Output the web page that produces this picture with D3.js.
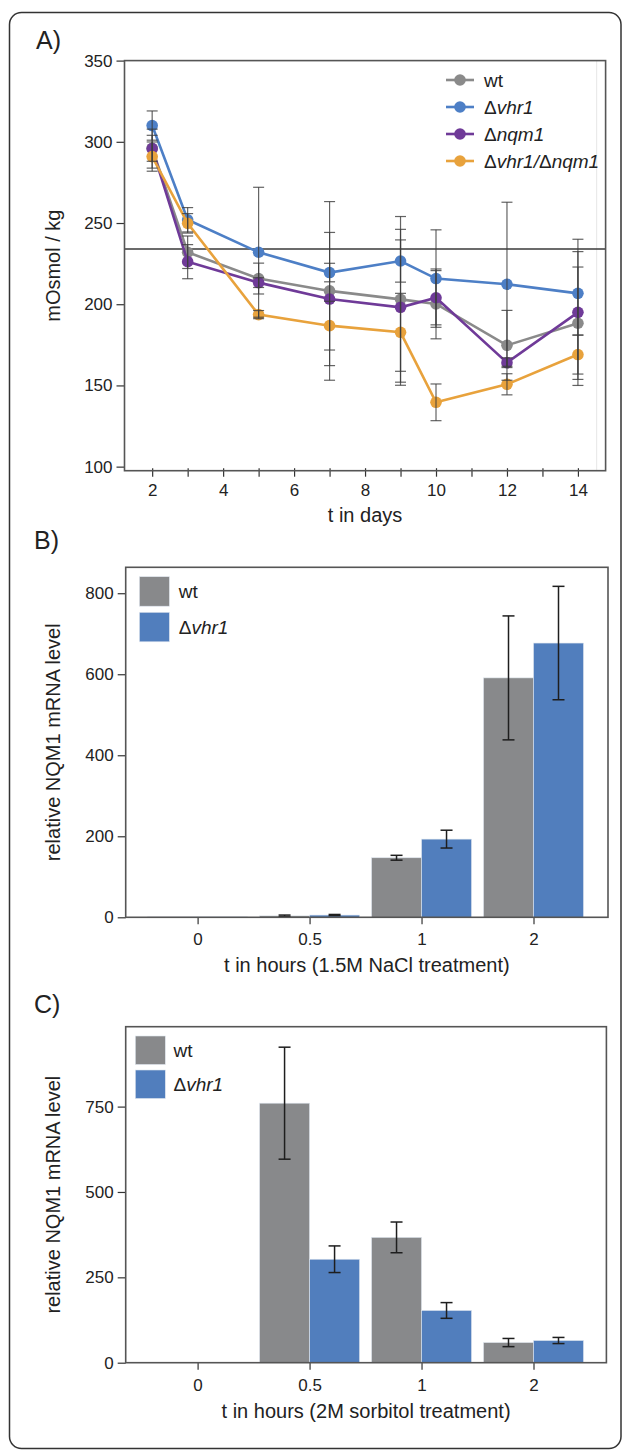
<!DOCTYPE html>
<html>
<head>
<meta charset="utf-8">
<script src="https://cdn.jsdelivr.net/npm/d3@7/dist/d3.min.js"></script>
<style>
    body { margin: 0; background: #fff; }
    svg text { font-family: "Liberation Sans", Arial, sans-serif; fill: #222; }
</style>
</head>
<body>
<div id="fig"></div>
<script>
// ---- panel A: osmolality over days ----
const days = [2, 3, 5, 7, 9, 10, 12, 14];
const wt_osm = [296, 232, 215.8, 208.2, 203, 200.2, 174.7, 188.3];
const wt_osm_err = [8, 10, 9.5, 55, 51, 21.5, 21.5, 34.6];
const vhr1_osm = [310, 252, 232, 219.5, 226.6, 215.8, 212.3, 206.7];
const vhr1_osm_err = [9, 7.5, 40, 5.7, 13, 30, 50.5, 25.7];
const nqm1_osm = [295.8, 226.2, 213.3, 203.2, 198.1, 204, 164, 195];
const nqm1_osm_err = [12, 10.5, 3, 41, 48, 16.7, 3, 45];
const double_osm = [290.9, 249.8, 193.6, 186.8, 182.7, 139.6, 150.7, 169];
const double_osm_err = [9, 6, 2.5, 15, 24, 11.3, 6.5, 12];
const ref_osm = 234;
const osm_ticks = [100, 150, 200, 250, 300, 350];
const line_names = ["wt", "Δvhr1", "Δnqm1", "Δvhr1/Δnqm1"];

// ---- panel B / C: NQM1 mRNA ----
const hour_cats = ["0", "0.5", "1", "2"];
const bar_names = ["wt", "Δvhr1"];
const nacl_wt = [1, 3.5, 147, 591];
const nacl_wt_err = [0, 2, 6, 153];
const nacl_vhr1 = [1, 5.5, 193, 677];
const nacl_vhr1_err = [0, 1.5, 22, 140];
const nacl_ticks = [0, 200, 400, 600, 800];
const sorb_wt = [1, 760, 367, 59];
const sorb_wt_err = [0, 164, 45, 12];
const sorb_vhr1 = [1, 303, 153, 65];
const sorb_vhr1_err = [0, 39, 23, 9];
const sorb_ticks = [0, 250, 500, 750];

const color_set = ["#8a8a8a", "#4d7fc6", "#6f3a98", "#e8a23c"];
const bar_colors = ["#88898b", "#517ebd"];

const width = 629, height = 1450;
const svg = d3.select("#fig")
    .append("svg")
    .attr("width", width)
    .attr("height", height)

// outer rounded box
svg.append("rect")
    .attr("x", 9.5).attr("y", 12.5)
    .attr("width", 611.5).attr("height", 1436)
    .attr("rx", 12)
    .attr("fill", "none")
    .attr("stroke", "#333")
    .attr("stroke-width", 1.5)

// writes "Δ" upright and gene names in italics
function label_text(sel, name) {
    if (name === "wt") { sel.text(name); return; }
    name.split(/(Δ)/).filter(s => s !== "").forEach(s => {
        sel.append("tspan")
            .attr("font-style", s === "Δ" ? "normal" : "italic")
            .text(s)
    })
}

function style_axis(g) {
    g.select(".domain").remove()
    g.selectAll("line").attr("stroke", "#333").attr("stroke-width", 1.2)
    g.selectAll("text").attr("font-size", "17px").attr("fill", "#222")
}

draw_pict1();
draw_bars({
    top: 567.3, bottom: 917.3, left: 125.7, right: 608,
    max: 864, ticks: nacl_ticks, letter: "B)", letterY: 549,
    title: "t in hours (1.5M NaCl treatment)",
    legend: { x: 139.4, y: 576.7, h: 29.5, gap: 35.6, tx: 178.7 }
}, nacl_wt, nacl_wt_err, nacl_vhr1, nacl_vhr1_err);
draw_bars({
    top: 1026.7, bottom: 1362.7, left: 125.7, right: 606.4,
    max: 984, ticks: sorb_ticks, letter: "C)", letterY: 1013,
    title: "t in hours (2M sorbitol treatment)",
    legend: { x: 135.3, y: 1036, h: 28.5, gap: 34, tx: 173.5 }
}, sorb_wt, sorb_wt_err, sorb_vhr1, sorb_vhr1_err);

function draw_pict1() {
    const config = { top: 60.6, bottom: 470.7, left: 124.5, right: 605.6, r: 5.8 }
    const series = [
        { name: line_names[0], vals: wt_osm, err: wt_osm_err, color: color_set[0] },
        { name: line_names[1], vals: vhr1_osm, err: vhr1_osm_err, color: color_set[1] },
        { name: line_names[2], vals: nqm1_osm, err: nqm1_osm_err, color: color_set[2] },
        { name: line_names[3], vals: double_osm, err: double_osm_err, color: color_set[3] },
    ]
    const scale_x = d3.scaleLinear()
        .domain([1.22, 14.78])
        .range([config.left, config.right]);
    const scale_y = d3.scaleLinear()
        .domain([97.5, 350])
        .range([config.bottom, config.top]);

    svg.append("text")
        .attr("x", 36).attr("y", 48.5)
        .attr("font-size", "25px")
        .attr("fill", "#333")
        .text("A)")

    // faint inner line near the right edge
    svg.append("line")
        .attr("x1", 596.7).attr("x2", 596.7)
        .attr("y1", config.top).attr("y2", config.bottom)
        .attr("stroke", "#e6e6e6").attr("stroke-width", 1)

    const g_axisX = svg.append("g")
        .attr("transform", `translate(0, ${config.bottom})`)
        .call(d3.axisBottom(scale_x)
            .tickValues(d3.range(2, 15))
            .tickFormat(d => d % 2 === 0 ? d : "")
            .tickSize(6).tickPadding(7))
    style_axis(g_axisX)
    g_axisX.selectAll("line").attr("y1", -2.5)

    const g_axisY = svg.append("g")
        .attr("transform", `translate(${config.left}, 0)`)
        .call(d3.axisLeft(scale_y).tickValues(osm_ticks).tickSize(8).tickPadding(4))
    style_axis(g_axisY)

    // reference line
    svg.append("line")
        .attr("x1", config.left).attr("x2", config.right)
        .attr("y1", scale_y(ref_osm)).attr("y2", scale_y(ref_osm))
        .attr("stroke", "#3a3a3a").attr("stroke-width", 1.5)

    const line = d3.line()
        .x((d, i) => scale_x(days[i]))
        .y(d => scale_y(d))
    const g_series = svg.append("g")
    series.forEach(s => {
        g_series.append("path")
            .attr("d", line(s.vals))
            .attr("fill", "none")
            .attr("stroke", s.color)
            .attr("stroke-width", 2.6)
        g_series.selectAll(null)
            .data(s.vals)
            .join("circle")
            .attr("cx", (d, i) => scale_x(days[i]))
            .attr("cy", d => scale_y(d))
            .attr("r", config.r)
            .attr("fill", s.color)
    })

    // error bars on top
    const g_err = svg.append("g")
        .attr("stroke", "#3c3c3c")
        .attr("stroke-opacity", 0.8)
        .attr("stroke-width", 1.2)
    series.forEach(s => {
        s.vals.forEach((v, i) => {
            const x = scale_x(days[i]);
            const y0 = scale_y(v + s.err[i]), y1 = scale_y(v - s.err[i]);
            g_err.append("line").attr("x1", x).attr("x2", x).attr("y1", y0).attr("y2", y1)
            g_err.append("line").attr("x1", x - 5.5).attr("x2", x + 5.5).attr("y1", y0).attr("y2", y0)
            g_err.append("line").attr("x1", x - 5.5).attr("x2", x + 5.5).attr("y1", y1).attr("y2", y1)
        })
    })

    // frame
    svg.append("rect")
        .attr("x", config.left).attr("y", config.top)
        .attr("width", config.right - config.left)
        .attr("height", config.bottom - config.top)
        .attr("fill", "none")
        .attr("stroke", "#555")
        .attr("stroke-width", 1.6)

    // legend
    const g_leg = svg.append("g")
    series.forEach((s, i) => {
        const y = 80 + i * 27;
        g_leg.append("line")
            .attr("x1", 446).attr("x2", 474)
            .attr("y1", y).attr("y2", y)
            .attr("stroke", s.color).attr("stroke-width", 2.6)
        g_leg.append("circle")
            .attr("cx", 460).attr("cy", y).attr("r", config.r)
            .attr("fill", s.color)
        g_leg.append("text")
            .attr("x", 484).attr("y", y + 7)
            .attr("font-size", "19px")
            .call(label_text, s.name)
    })

    svg.append("text")
        .attr("x", (config.left + config.right) / 2)
        .attr("y", 522)
        .attr("text-anchor", "middle")
        .attr("font-size", "20px")
        .text("t in days")
    svg.append("text")
        .attr("transform", `translate(60, ${(config.top + config.bottom) / 2}) rotate(-90)`)
        .attr("text-anchor", "middle")
        .attr("font-size", "20px")
        .text("mOsmol / kg")
}

function draw_bars(config, wt, wt_err, vh, vh_err) {
    const bar_w = 50;
    const scale_x = d3.scalePoint()
        .domain(hour_cats)
        .range([197.6, 533.5]);
    const scale_y = d3.scaleLinear()
        .domain([0, config.max])
        .range([config.bottom, config.top]);

    svg.append("text")
        .attr("x", 34).attr("y", config.letterY)
        .attr("font-size", "25px")
        .attr("fill", "#333")
        .text(config.letter)

    const data = hour_cats.map((c, i) => [
        { cat: c, v: wt[i], e: wt_err[i], k: 0 },
        { cat: c, v: vh[i], e: vh_err[i], k: 1 },
    ]).flat()

    svg.append("g")
        .selectAll("rect")
        .data(data)
        .join("rect")
        .attr("x", d => scale_x(d.cat) + (d.k === 0 ? -bar_w : 0))
        .attr("y", d => scale_y(d.v))
        .attr("width", bar_w)
        .attr("height", d => scale_y(0) - scale_y(d.v))
        .attr("fill", d => bar_colors[d.k])
        .attr("stroke", "#dfe6ef")
        .attr("stroke-width", 0.6)

    const g_err = svg.append("g")
        .attr("stroke", "#1e1e1e")
        .attr("stroke-width", 1.5)
    data.filter(d => d.e > 0).forEach(d => {
        const x = scale_x(d.cat) + (d.k === 0 ? -bar_w / 2 : bar_w / 2);
        const y0 = scale_y(d.v + d.e), y1 = scale_y(d.v - d.e);
        g_err.append("line").attr("x1", x).attr("x2", x).attr("y1", y0).attr("y2", y1)
        g_err.append("line").attr("x1", x - 6).attr("x2", x + 6).attr("y1", y0).attr("y2", y0)
        g_err.append("line").attr("x1", x - 6).attr("x2", x + 6).attr("y1", y1).attr("y2", y1)
    })

    const g_axisX = svg.append("g")
        .attr("transform", `translate(0, ${config.bottom})`)
        .call(d3.axisBottom(scale_x).tickSize(7).tickPadding(9))
    style_axis(g_axisX)

    const g_axisY = svg.append("g")
        .attr("transform", `translate(${config.left}, 0)`)
        .call(d3.axisLeft(scale_y).tickValues(config.ticks).tickSize(8).tickPadding(4))
    style_axis(g_axisY)

    svg.append("rect")
        .attr("x", config.left).attr("y", config.top)
        .attr("width", config.right - config.left)
        .attr("height", config.bottom - config.top)
        .attr("fill", "none")
        .attr("stroke", "#555")
        .attr("stroke-width", 1.6)

    const lg = config.legend;
    bar_names.forEach((name, i) => {
        svg.append("rect")
            .attr("x", lg.x).attr("y", lg.y + i * lg.gap)
            .attr("width", 30).attr("height", lg.h)
            .attr("fill", bar_colors[i])
            .attr("stroke", "#dfe6ef").attr("stroke-width", 0.6)
        svg.append("text")
            .attr("x", lg.tx).attr("y", lg.y + i * lg.gap + lg.h / 2 + 7)
            .attr("font-size", "19px")
            .call(label_text, name)
    })

    svg.append("text")
        .attr("x", (config.left + config.right) / 2)
        .attr("y", config.bottom + 55)
        .attr("text-anchor", "middle")
        .attr("font-size", "20px")
        .text(config.title)
    svg.append("text")
        .attr("transform", `translate(60, ${(config.top + config.bottom) / 2}) rotate(-90)`)
        .attr("text-anchor", "middle")
        .attr("font-size", "20px")
        .text("relative NQM1 mRNA level")
}
</script>
</body>
</html>
